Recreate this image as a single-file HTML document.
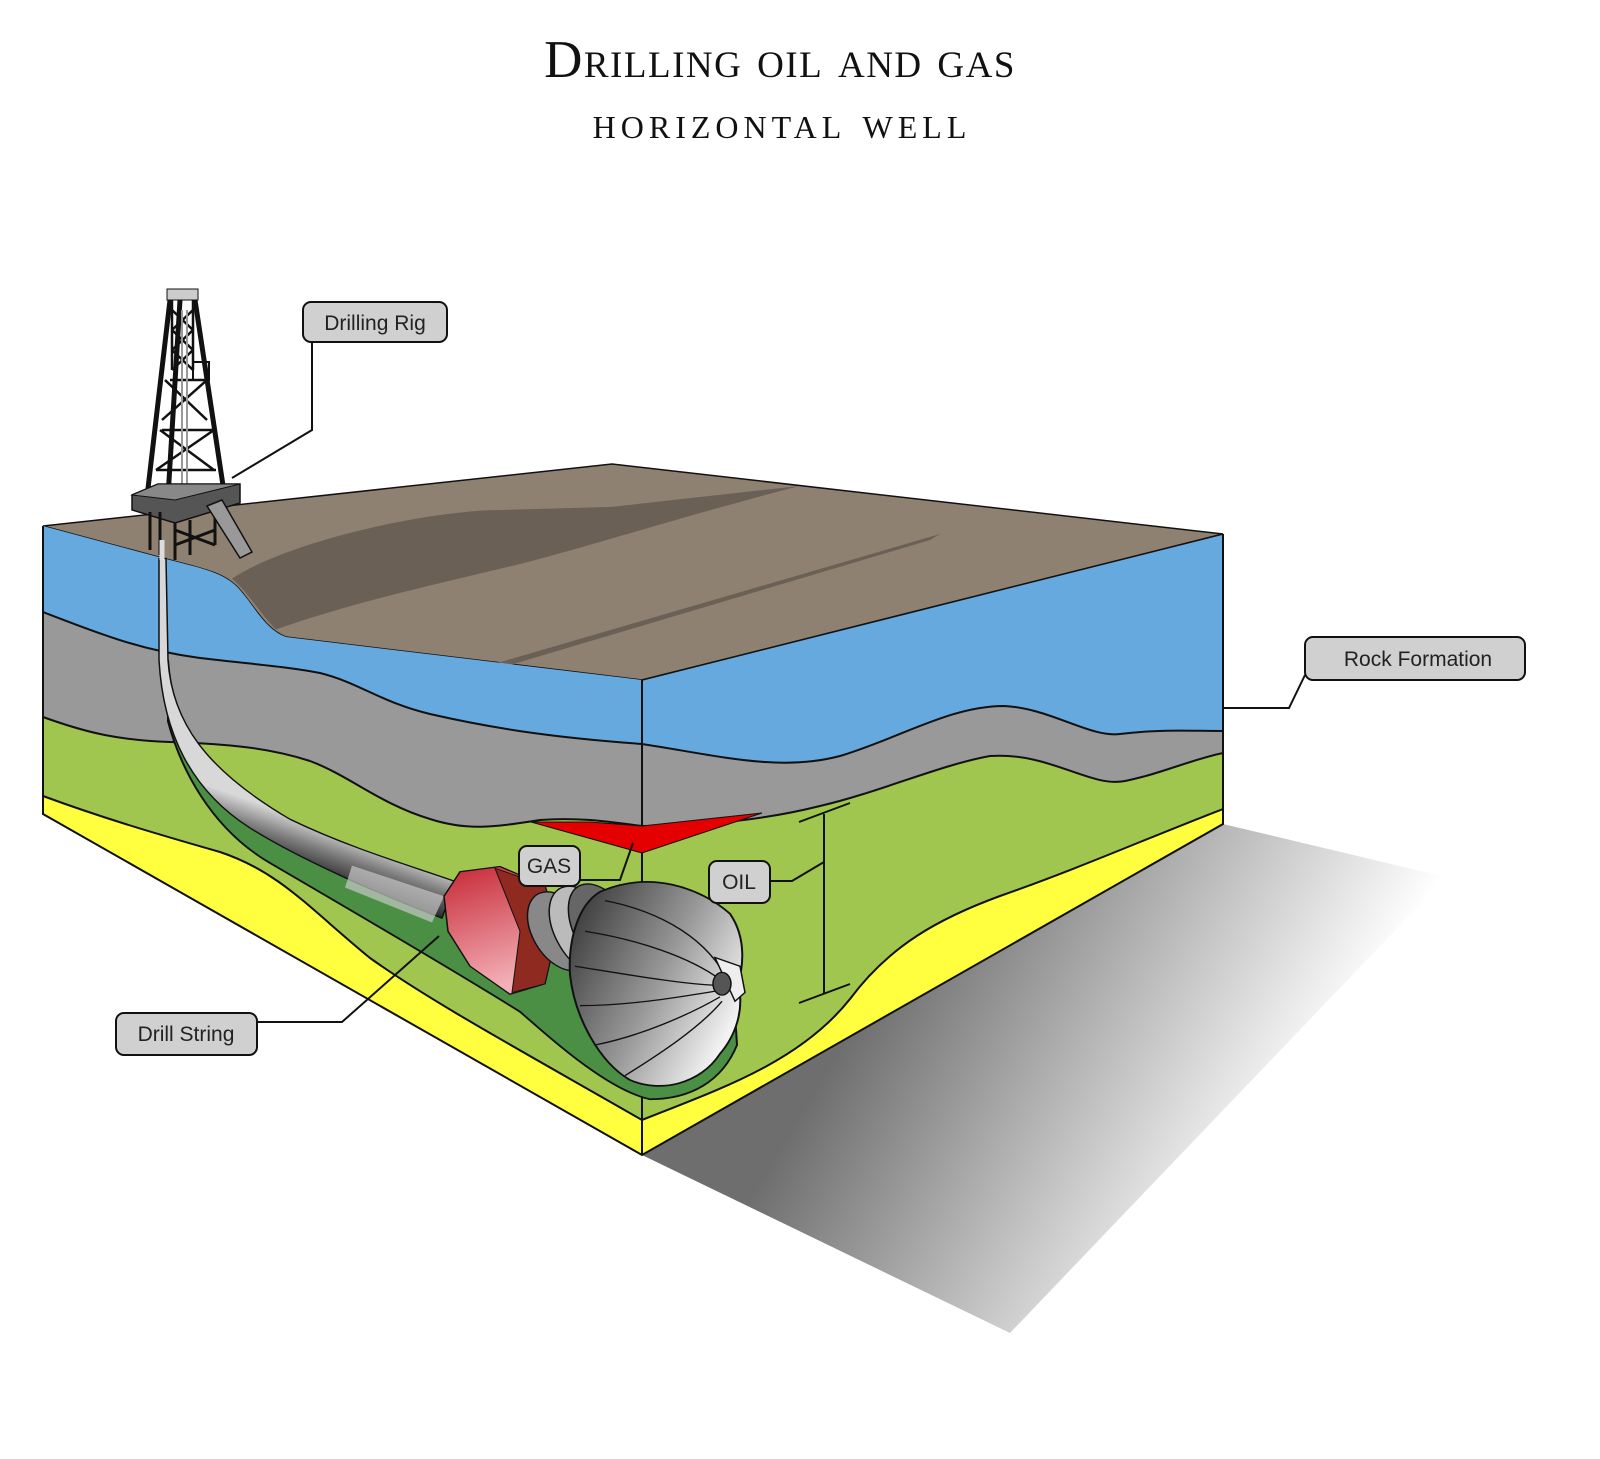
<!DOCTYPE html>
<html><head><meta charset="utf-8"><style>
html,body{margin:0;padding:0;background:#fff;}
svg{display:block;}
.lbl{font-family:"Liberation Sans",sans-serif;font-size:21px;fill:#222;}
.ttl{font-family:"Liberation Serif",serif;fill:#111;font-variant:small-caps;}
</style></head><body>
<svg width="1600" height="1459" viewBox="0 0 1600 1459" xmlns="http://www.w3.org/2000/svg">
<defs>
<linearGradient id="sh" gradientUnits="userSpaceOnUse" x1="880" y1="980" x2="1250" y2="1200">
<stop offset="0" stop-color="#6e6e6e"/><stop offset="1" stop-color="#ffffff"/></linearGradient>
<linearGradient id="pipe" gradientUnits="userSpaceOnUse" x1="300" y1="870" x2="280" y2="920">
<stop offset="0" stop-color="#d8d8d8"/><stop offset="0.5" stop-color="#7a7a7a"/><stop offset="1" stop-color="#2a2a2a"/></linearGradient>
<linearGradient id="bit" x1="0" y1="0" x2="1" y2="0.6">
<stop offset="0" stop-color="#2e2e2e"/><stop offset="0.6" stop-color="#9a9a9a"/><stop offset="1" stop-color="#f2f2f2"/></linearGradient>
<linearGradient id="red" x1="0" y1="0" x2="0.3" y2="1">
<stop offset="0" stop-color="#c62835"/><stop offset="1" stop-color="#f4b0b8"/></linearGradient>
<clipPath id="lf"><path d="M43,526 L162,558 C200,568 225,572 240,590 C255,607 265,629 286,637 L642,680 L642,1155 L43,814 Z"/></clipPath>
<clipPath id="rf"><path d="M642,680 L1223,534 L1223,824 L642,1155 Z"/></clipPath>
</defs>

<text class="ttl" x="780" y="77" text-anchor="middle" font-size="53" letter-spacing="1.5">Drilling oil and gas</text>
<text class="ttl" x="782" y="138" text-anchor="middle" font-size="45" letter-spacing="5">horizontal well</text>

<!-- shadow -->
<polygon points="642,1155 1223,824 1446,877 1010,1333" fill="url(#sh)"/>

<!-- top surface -->
<path d="M43,526 L612,464 L1223,534 L642,680 L286,637 C265,629 255,607 240,590 C225,572 200,568 162,558 Z" fill="#8e8171" stroke="#111" stroke-width="1.5"/>
<g transform="matrix(1,0,0,0.875,0,56.25)">
<path d="M232,597 C280,560 400,525 485,519 L612,515 L800,491 C700,520 560,570 510,583 C430,605 357,623 276,655 C262,640 250,615 232,597 Z" fill="#6b6056"/>
</g>
<path d="M480,668 L940,534 L930,540 L490,671 Z" fill="#6b6056"/>

<!-- left face -->
<g clip-path="url(#lf)">
<rect x="0" y="500" width="700" height="800" fill="#66a9de"/>
<path d="M43,612 C100,634 140,650 200,658 C260,665 290,667 320,673 C360,683 380,702 430,714 C500,730 560,738 642,744 L642,1300 L43,1300 Z" fill="#999" stroke="#111" stroke-width="2"/>
<path d="M43,717 C90,734 120,740 170,742 C230,744 270,748 310,761 C350,776 380,804 430,819 C470,832 500,826 540,820 C580,817 610,822 642,826 L642,1300 L43,1300 Z" fill="#a0c64f" stroke="#111" stroke-width="2"/>
<path d="M43,796 C100,817 150,832 220,852 C280,872 310,909 370,958 C430,1001 520,1050 642,1120 L642,1300 L43,1300 Z" fill="#ffff40" stroke="#111" stroke-width="2"/>
</g>
<!-- right face -->
<g clip-path="url(#rf)">
<rect x="640" y="500" width="600" height="800" fill="#66a9de"/>
<path d="M642,744 C720,756 780,772 840,756 C900,738 950,706 1004,706 C1050,708 1090,738 1120,734 C1160,729 1190,731 1223,731 L1223,1300 L642,1300 Z" fill="#999" stroke="#111" stroke-width="2"/>
<path d="M642,826 C700,826 760,821 820,806 C880,792 940,765 990,756 C1050,752 1090,788 1125,781 C1160,774 1190,760 1223,753 L1223,1300 L642,1300 Z" fill="#a0c64f" stroke="#111" stroke-width="2"/>
<path d="M642,1120 C720,1089 800,1062 850,999 C890,945 940,918 1000,896 C1080,868 1150,837 1223,809 L1223,1300 L642,1300 Z" fill="#ffff40" stroke="#111" stroke-width="2"/>
</g>
<path d="M43,526 L43,814 L642,1155 L1223,824 L1223,534 M642,680 L642,1155" fill="none" stroke="#111" stroke-width="2"/>
<path d="M642,680 L1223,534" stroke="#111" stroke-width="1.5"/>

<!-- gas -->
<polygon points="531,822 590,822 642,826 762,813 642,853" fill="#e40000" stroke="#111" stroke-width="1"/>

<g transform="matrix(1,0,0,0.875,0,56.25)">
<!-- cavity -->
<path d="M168,690 C172,760 200,810 286,880 C360,925 420,950 470,958 C560,965 640,950 675,960 C705,975 722,1000 732,1040 L737,1130 C722,1172 690,1192 650,1192 C610,1182 560,1132 520,1092 C450,1042 330,962 270,922 C210,882 180,812 168,760 Z" fill="#4b8f44" stroke="#111" stroke-width="2"/>
<!-- pipe -->
<path d="M159,574 L166,574 L168,690 C172,760 205,815 290,872 C350,905 410,925 455,943 L442,985 C380,958 300,918 250,882 C190,838 163,772 159,690 Z" fill="url(#pipe)" stroke="#111" stroke-width="1.5"/>
<path d="M352,925 L444,960 L432,990 L345,950 Z" fill="#c8c8c8" opacity="0.7"/>
<!-- collar -->
<path d="M444,960 L460,932 L500,926 L545,948 L558,995 L545,1060 L510,1072 L470,1040 L448,1000 Z" fill="url(#red)" stroke="#111" stroke-width="1.5"/>
<path d="M495,928 L545,948 L558,995 L545,1060 L512,1070 L520,1000 Z" fill="#8e2a20" stroke="#111" stroke-width="1"/>
<!-- rings -->
<ellipse cx="560" cy="1000" rx="28" ry="48" transform="rotate(-25 560 1000)" fill="#888" stroke="#111" stroke-width="1.5"/>
<ellipse cx="585" cy="1000" rx="30" ry="55" transform="rotate(-25 585 1000)" fill="#bbb" stroke="#111" stroke-width="1.5"/>
<ellipse cx="605" cy="1000" rx="30" ry="58" transform="rotate(-25 605 1000)" fill="#666" stroke="#111" stroke-width="1.5"/>
<!-- bit -->
<path d="M600,955 C650,930 700,950 730,980 C748,1010 742,1045 738,1060 C745,1090 735,1120 720,1140 C700,1175 660,1185 630,1170 C600,1150 575,1100 570,1050 C568,1010 578,970 600,955 Z" fill="url(#bit)" stroke="#111" stroke-width="2"/>
<path d="M605,965 C650,975 700,1000 725,1050 M585,1000 C640,1010 690,1030 720,1055 M575,1040 C630,1050 680,1060 718,1062 M580,1085 C630,1085 680,1075 718,1068 M595,1130 C640,1120 690,1095 720,1075 M625,1165 C660,1140 700,1110 722,1080" fill="none" stroke="#111" stroke-width="1.5"/>
<path d="M715,1030 L740,1040 L745,1070 L735,1080 Z" fill="#eee" stroke="#111" stroke-width="1.5"/>
<ellipse cx="722" cy="1060" rx="9" ry="13" fill="#555" stroke="#111" stroke-width="1.5"/>
</g>

<!-- oil bracket -->
<path d="M799,822 L850,803 M824,814 L824,993 M799,1003 L850,984" stroke="#111" stroke-width="2" fill="none"/>

<!-- rig -->
<g stroke="#111" fill="none">
<rect x="167" y="289" width="31" height="11" fill="#ccc" stroke-width="1"/>
<path d="M170,300 L147,497 M195,300 L224,492 M180,300 L168,497" stroke-width="5"/>
<path d="M172,310 L193,330 M193,310 L172,330 M172,330 L193,350 M193,330 L172,350 M172,350 L193,370 M193,350 L172,370 M165,380 L207,420 M207,380 L162,420 M160,430 L214,470 M214,430 L156,470 M170,380 L205,380 M162,430 L212,430 M156,470 L216,470 M172,300 L172,370 M193,300 L193,370" stroke-width="2.5"/>
<rect x="193" y="362" width="16" height="18" stroke-width="2"/>
<path d="M182,310 L182,490 M187,310 L187,490" stroke="#999" stroke-width="2"/>
<polygon points="132,495 158,484 240,484 240,503 175,523 132,510" fill="#555" stroke-width="1.5"/>
<polygon points="132,495 158,484 240,484 175,500" fill="#888" stroke-width="1"/>
<path d="M150,512 L150,550 M160,512 L160,555 M175,523 L175,560 M190,520 L190,555 M215,512 L215,545 M175,530 L215,545 M215,530 L175,545" stroke-width="3"/>
<polygon points="207,506 222,500 252,552 240,558" fill="#999" stroke-width="1.5"/>
</g>
<line x1="162" y1="540" x2="162" y2="560" stroke="#ddd" stroke-width="5"/>

<!-- connectors -->
<path d="M312,342 L312,430 L232,478" fill="none" stroke="#111" stroke-width="2"/>
<path d="M1223,708 L1289,708 L1305,675" fill="none" stroke="#111" stroke-width="2"/>
<path d="M580,880 L620,880 L633,843" fill="none" stroke="#111" stroke-width="2"/>
<path d="M770,881 L792,881 L824,862" fill="none" stroke="#111" stroke-width="2"/>
<path d="M257,1022 L342,1022 L439,936" fill="none" stroke="#111" stroke-width="2"/>

<!-- labels -->
<rect x="303" y="302" width="144" height="40" rx="8" fill="#d0d0d0" stroke="#111" stroke-width="2"/>
<text class="lbl" x="375" y="330" text-anchor="middle">Drilling Rig</text>
<rect x="1305" y="637" width="220" height="43" rx="8" fill="#d0d0d0" stroke="#111" stroke-width="2"/>
<text class="lbl" x="1418" y="666" text-anchor="middle">Rock Formation</text>
<rect x="519" y="846" width="61" height="40" rx="8" fill="#d0d0d0" stroke="#111" stroke-width="2"/>
<text class="lbl" x="549" y="873" text-anchor="middle">GAS</text>
<rect x="709" y="861" width="61" height="42" rx="8" fill="#d0d0d0" stroke="#111" stroke-width="2"/>
<text class="lbl" x="739" y="889" text-anchor="middle">OIL</text>
<rect x="116" y="1013" width="141" height="42" rx="8" fill="#d0d0d0" stroke="#111" stroke-width="2"/>
<text class="lbl" x="186" y="1041" text-anchor="middle">Drill String</text>
</svg>
</body></html>
